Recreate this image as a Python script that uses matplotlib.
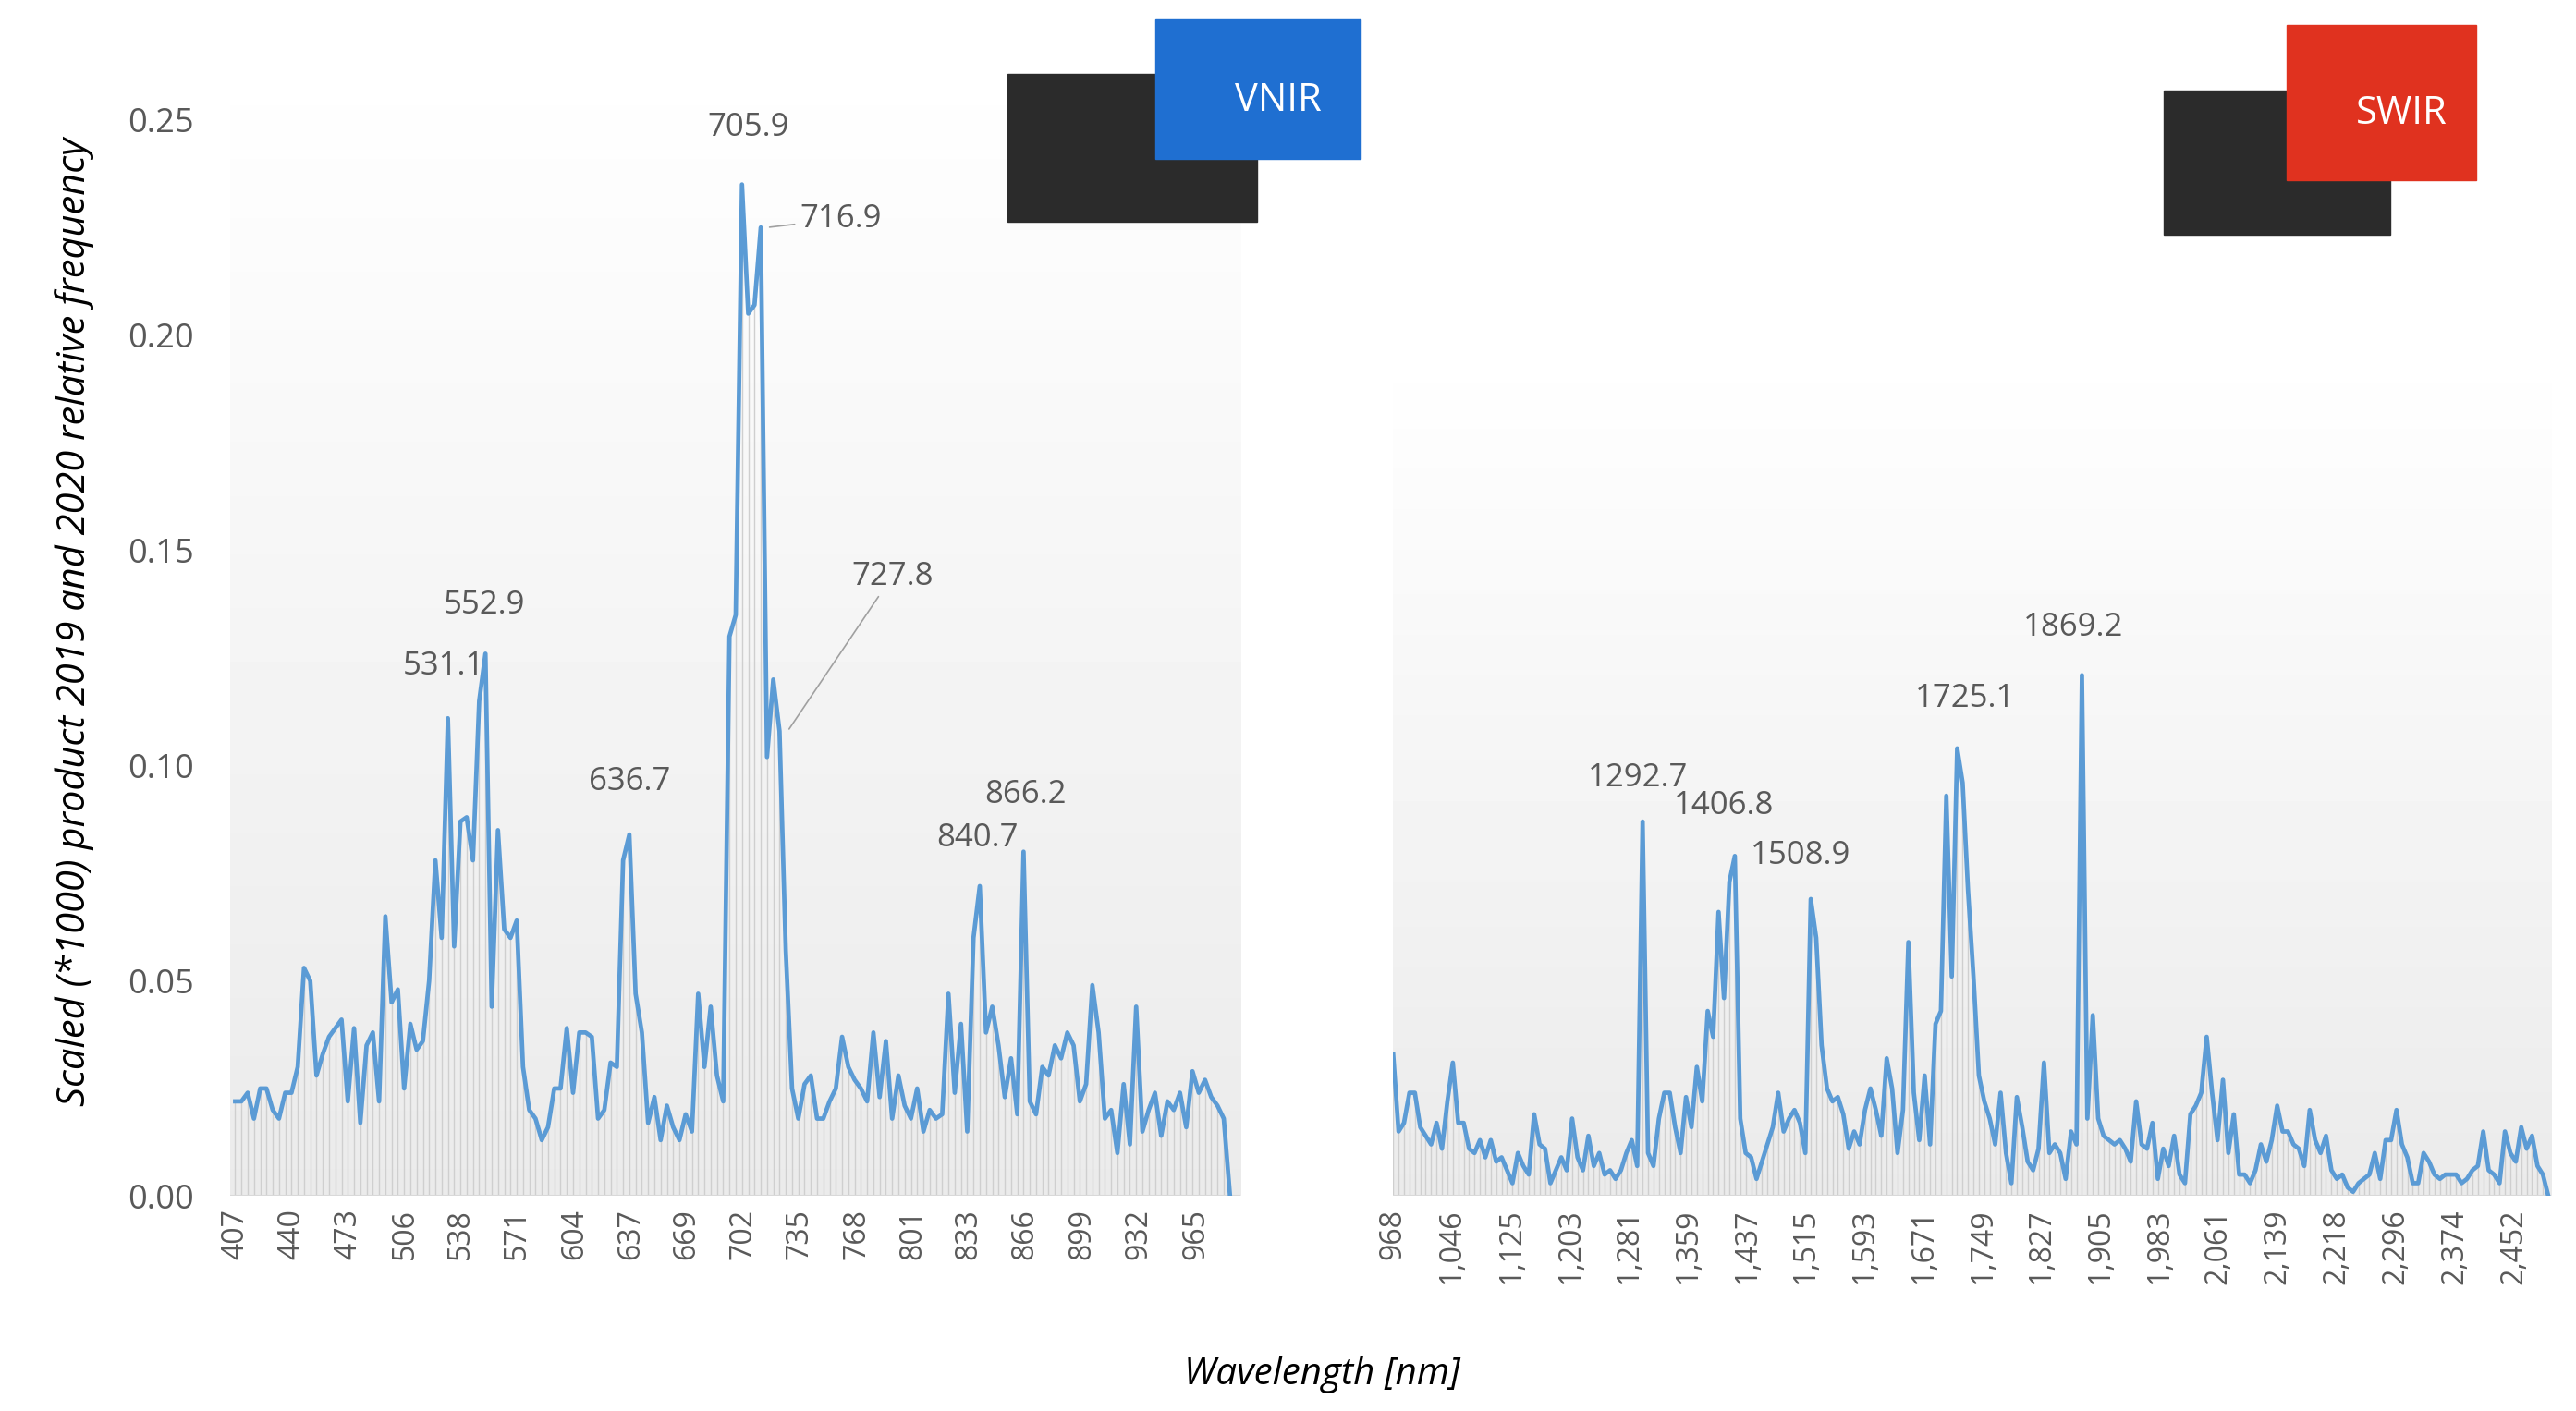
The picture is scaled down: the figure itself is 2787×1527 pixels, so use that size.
import matplotlib
matplotlib.use("Agg")
import matplotlib.pyplot as plt
import numpy as np
from matplotlib.patches import Rectangle

# --- data ---
vnir = [0.022, 0.022, 0.024, 0.018, 0.025, 0.025, 0.02, 0.018, 0.024, 0.024, 0.03, 0.053, 0.05, 0.028,
        0.033, 0.037, 0.039, 0.041, 0.022, 0.039, 0.017, 0.035, 0.038, 0.022, 0.065, 0.045, 0.048, 0.025,
        0.04, 0.034, 0.036, 0.05, 0.078, 0.06, 0.111, 0.058, 0.087, 0.088, 0.078, 0.115, 0.126, 0.044,
        0.085, 0.062, 0.06, 0.064, 0.03, 0.02, 0.018, 0.013, 0.016, 0.025, 0.025, 0.039, 0.024, 0.038,
        0.038, 0.037, 0.018, 0.02, 0.031, 0.03, 0.078, 0.084, 0.047, 0.038, 0.017, 0.023, 0.013, 0.021,
        0.016, 0.013, 0.019, 0.015, 0.047, 0.03, 0.044, 0.028, 0.022, 0.13, 0.135, 0.235, 0.205, 0.207,
        0.225, 0.102, 0.12, 0.108, 0.057, 0.025, 0.018, 0.026, 0.028, 0.018, 0.018, 0.022, 0.025, 0.037,
        0.03, 0.027, 0.025, 0.022, 0.038, 0.023, 0.036, 0.018, 0.028, 0.021, 0.018, 0.025, 0.015, 0.02,
        0.018, 0.019, 0.047, 0.024, 0.04, 0.015, 0.06, 0.072, 0.038, 0.044, 0.035, 0.023, 0.032, 0.019,
        0.08, 0.022, 0.019, 0.03, 0.028, 0.035, 0.032, 0.038, 0.035, 0.022, 0.026, 0.049, 0.038, 0.018,
        0.02, 0.01, 0.026, 0.012, 0.044, 0.015, 0.02, 0.024, 0.014, 0.022, 0.02, 0.024, 0.016, 0.029,
        0.024, 0.027, 0.023, 0.021, 0.018, 0.0]
swir = [0.033, 0.015, 0.017, 0.024, 0.024, 0.016, 0.014, 0.012, 0.017, 0.011, 0.022, 0.031, 0.017, 0.017,
        0.011, 0.01, 0.013, 0.009, 0.013, 0.008, 0.009, 0.006, 0.003, 0.01, 0.007, 0.005, 0.019, 0.012,
        0.011, 0.003, 0.006, 0.009, 0.006, 0.018, 0.009, 0.006, 0.014, 0.007,
        0.01, 0.005, 0.006, 0.004, 0.006, 0.01, 0.013, 0.007, 0.087,
        0.01, 0.007, 0.018, 0.024, 0.024, 0.016, 0.01, 0.023, 0.016, 0.03, 0.022, 0.043,
        0.037, 0.066, 0.046, 0.073, 0.079, 0.018, 0.01, 0.009, 0.004, 0.008, 0.012, 0.016, 0.024, 0.015,
        0.018, 0.02, 0.017, 0.01, 0.069, 0.06, 0.035, 0.025, 0.022, 0.023, 0.019, 0.011, 0.015, 0.012,
        0.02, 0.025, 0.02, 0.014, 0.032, 0.025, 0.01, 0.02, 0.059, 0.024, 0.013, 0.028, 0.012, 0.04, 0.043,
        0.093, 0.051, 0.104, 0.096, 0.071, 0.051, 0.028, 0.022, 0.018, 0.012, 0.024, 0.01, 0.003, 0.023,
        0.016, 0.008, 0.006, 0.011, 0.031, 0.01, 0.012, 0.01, 0.004, 0.015, 0.012, 0.121, 0.018, 0.042,
        0.018, 0.014, 0.013, 0.012,
        0.013, 0.011, 0.008, 0.022, 0.012, 0.011, 0.017, 0.004, 0.011, 0.007, 0.014, 0.005, 0.003, 0.019,
        0.021, 0.024, 0.037, 0.024, 0.013, 0.027, 0.01, 0.019, 0.005, 0.005, 0.003, 0.006, 0.012, 0.008,
        0.013, 0.021, 0.015, 0.015, 0.012, 0.011, 0.007, 0.02, 0.013, 0.01, 0.014, 0.006, 0.004, 0.005,
        0.002, 0.001, 0.003, 0.004, 0.005, 0.01, 0.004, 0.013, 0.013, 0.02, 0.012, 0.009, 0.003, 0.003,
        0.01, 0.008, 0.005, 0.004, 0.005, 0.005, 0.005, 0.003, 0.004, 0.006, 0.007, 0.015, 0.006, 0.005,
        0.003, 0.015, 0.01, 0.008, 0.016, 0.011, 0.014, 0.007, 0.005, 0.0]
vnir_range = (404, 991)
swir_range = (968, 2502)
vnir_ticks = [407, 440, 473, 506, 538, 571, 604, 637, 669, 702, 735, 768, 801, 833, 866, 899, 932, 965]
swir_ticks = [968, 1046, 1125, 1203, 1281, 1359, 1437, 1515, 1593, 1671, 1749, 1827, 1905, 1983,
              2061, 2139, 2218, 2296, 2374, 2452]
# peak labels: (text, x, y of label)
vnir_peaks = [("531.1", 528, 0.1195), ("552.9", 552, 0.1335), ("636.7", 636, 0.0925),
              ("840.7", 838, 0.0795), ("866.2", 866, 0.0895), ("705.9", 705, 0.2445)]
swir_peaks = [("1292.7", 1292, 0.0935), ("1406.8", 1406, 0.087), ("1508.9", 1508, 0.0755),
              ("1725.1", 1725, 0.112), ("1869.2", 1869, 0.1285)]

W, H = 1568, 860  # reference layout units
fig = plt.figure(figsize=(27.87, 15.27), dpi=100)
txt = "#595959"
plt.rcParams['font.family'] = ['Open Sans', 'DejaVu Sans']
YTOP = 0.2668


def panel(rect, vals, xr, ticks, grad_top, xdata):
    ax = fig.add_axes(rect)
    x = np.linspace(xdata[0], xdata[1], len(vals))
    yy = np.linspace(0, YTOP, 256).reshape(-1, 1)
    grad = np.where(yy > grad_top, 1.0, 0.92 + 0.08 * yy / grad_top)
    ax.imshow(grad, cmap="gray", vmin=0, vmax=1, aspect="auto", origin="lower",
              extent=[xr[0], xr[1], 0, YTOP], zorder=0)
    ax.vlines(x, 0, vals, color="#cfcfcf", lw=1.0, zorder=1)
    ax.plot(x, vals, color="#5b9bd5", lw=3.4, zorder=3)
    ax.set_xlim(*xr)
    ax.set_ylim(0, YTOP)
    ax.set_xticks(ticks)
    ax.set_xticklabels([f"{t:,}" for t in ticks], rotation=90, fontsize=23, color=txt)
    for s in ax.spines.values():
        s.set_visible(False)
    ax.axhline(0, color="#d9d9d9", lw=1.5, zorder=2)
    ax.tick_params(length=0, pad=10)
    return ax


ax1 = panel([140 / W, 1 - 729 / H, 615 / W, 700 / H], vnir, vnir_range, vnir_ticks, YTOP, (407, 985))
ax1.set_yticks([0, 0.05, 0.10, 0.15, 0.20, 0.25])
ax1.set_yticklabels(["0.00", "0.05", "0.10", "0.15", "0.20", "0.25"], fontsize=26, color=txt)
ax1.tick_params(axis="y", pad=28)
ax1.set_ylabel("Scaled (*1000) product 2019 and 2020 relative frequency", fontsize=30,
               style="italic", color="black", labelpad=26)
ax2 = panel([848 / W, 1 - 729 / H, 705 / W, 700 / H], swir, swir_range, swir_ticks, 0.198, (968, 2498))
ax2.set_yticks([])

for t, xp, yp in vnir_peaks:
    ax1.text(xp, yp, t, ha="center", va="bottom", fontsize=25, color=txt)
ax1.annotate("716.9", xy=(716, 0.225), xytext=(735, 0.227), fontsize=25, color=txt, va="center",
             arrowprops=dict(arrowstyle="-", color="#a0a0a0", lw=1.2))
ax1.annotate("727.8", xy=(728, 0.108), xytext=(765, 0.144), fontsize=25, color=txt, va="center",
             arrowprops=dict(arrowstyle="-", color="#a0a0a0", lw=1.2))
for t, xp, yp in swir_peaks:
    ax2.text(xp, yp, t, ha="center", va="bottom", fontsize=25, color=txt)

fig.text(805 / W, 1 - 838 / H, "Wavelength [nm]", ha="center", va="center",
         fontsize=29, style="italic", color="black")


# simple camera icons
def camera(x0, y0, x1, y1, bx0, by0, bx1, by1, col, label):
    fig.patches.append(Rectangle((x0 / W, 1 - y1 / H), (x1 - x0) / W, (y1 - y0) / H,
                                 transform=fig.transFigure, color="#2b2b2b", zorder=5))
    fig.patches.append(Rectangle((bx0 / W, 1 - by1 / H), (bx1 - bx0) / W, (by1 - by0) / H,
                                 transform=fig.transFigure, color=col, zorder=6))
    fig.text((bx0 + bx1) / 2 / W + 0.008, 1 - (by0 + by1) / 2 / H - 0.008, label, color="white",
             fontsize=30, ha="center", va="center", zorder=7)


camera(613, 45, 765, 135, 703, 12, 828, 97, "#1f6fd1", "VNIR")
camera(1317, 55, 1455, 143, 1392, 15, 1507, 110, "#e0321f", "SWIR")

fig.savefig("out.png", dpi=100)
